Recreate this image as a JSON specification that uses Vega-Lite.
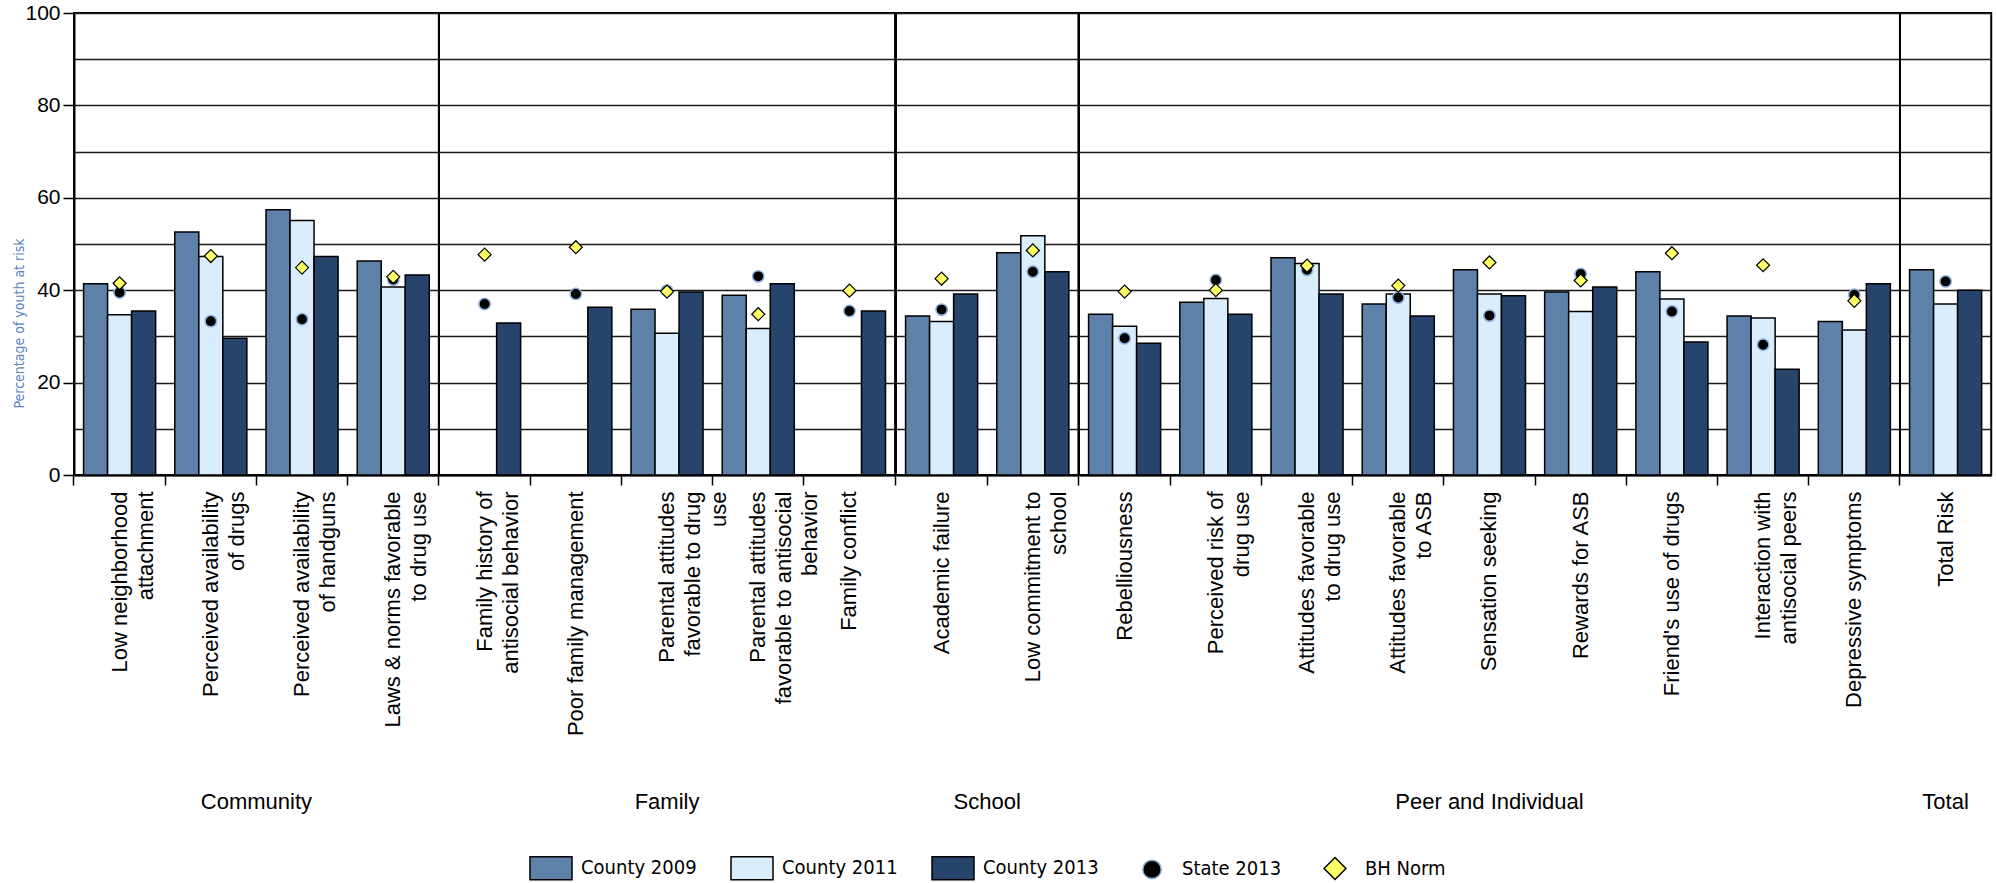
{
  "$schema": "https://vega.github.io/schema/vega-lite/v6.json",
  "background": "white",
  "padding": {"left": 12, "top": 2, "right": 5, "bottom": 5},
  "bounds": "flush",
  "data": {"values": [
    {"domain": "Community", "factor": "Low neighborhood|attachment", "series": "County 2009", "value": 41.4},
    {"domain": "Community", "factor": "Low neighborhood|attachment", "series": "County 2011", "value": 34.7},
    {"domain": "Community", "factor": "Low neighborhood|attachment", "series": "County 2013", "value": 35.5},
    {"domain": "Community", "factor": "Low neighborhood|attachment", "series": "State 2013", "value": 39.5},
    {"domain": "Community", "factor": "Low neighborhood|attachment", "series": "BH Norm", "value": 41.5},
    {"domain": "Community", "factor": "Perceived availability|of drugs", "series": "County 2009", "value": 52.6},
    {"domain": "Community", "factor": "Perceived availability|of drugs", "series": "County 2011", "value": 47.3},
    {"domain": "Community", "factor": "Perceived availability|of drugs", "series": "County 2013", "value": 29.6},
    {"domain": "Community", "factor": "Perceived availability|of drugs", "series": "State 2013", "value": 33.3},
    {"domain": "Community", "factor": "Perceived availability|of drugs", "series": "BH Norm", "value": 47.4},
    {"domain": "Community", "factor": "Perceived availability|of handguns", "series": "County 2009", "value": 57.4},
    {"domain": "Community", "factor": "Perceived availability|of handguns", "series": "County 2011", "value": 55.1},
    {"domain": "Community", "factor": "Perceived availability|of handguns", "series": "County 2013", "value": 47.3},
    {"domain": "Community", "factor": "Perceived availability|of handguns", "series": "State 2013", "value": 33.7},
    {"domain": "Community", "factor": "Perceived availability|of handguns", "series": "BH Norm", "value": 44.9},
    {"domain": "Community", "factor": "Laws & norms favorable|to drug use", "series": "County 2009", "value": 46.3},
    {"domain": "Community", "factor": "Laws & norms favorable|to drug use", "series": "County 2011", "value": 40.7},
    {"domain": "Community", "factor": "Laws & norms favorable|to drug use", "series": "County 2013", "value": 43.3},
    {"domain": "Community", "factor": "Laws & norms favorable|to drug use", "series": "State 2013", "value": 42.3},
    {"domain": "Community", "factor": "Laws & norms favorable|to drug use", "series": "BH Norm", "value": 42.9},
    {"domain": "Family", "factor": "Family history of|antisocial behavior", "series": "County 2013", "value": 32.9},
    {"domain": "Family", "factor": "Family history of|antisocial behavior", "series": "State 2013", "value": 37.0},
    {"domain": "Family", "factor": "Family history of|antisocial behavior", "series": "BH Norm", "value": 47.7},
    {"domain": "Family", "factor": "Poor family management", "series": "County 2013", "value": 36.3},
    {"domain": "Family", "factor": "Poor family management", "series": "State 2013", "value": 39.2},
    {"domain": "Family", "factor": "Poor family management", "series": "BH Norm", "value": 49.3},
    {"domain": "Family", "factor": "Parental attitudes|favorable to drug|use", "series": "County 2009", "value": 35.9},
    {"domain": "Family", "factor": "Parental attitudes|favorable to drug|use", "series": "County 2011", "value": 30.7},
    {"domain": "Family", "factor": "Parental attitudes|favorable to drug|use", "series": "County 2013", "value": 39.6},
    {"domain": "Family", "factor": "Parental attitudes|favorable to drug|use", "series": "State 2013", "value": 39.9},
    {"domain": "Family", "factor": "Parental attitudes|favorable to drug|use", "series": "BH Norm", "value": 39.7},
    {"domain": "Family", "factor": "Parental attitudes|favorable to antisocial|behavior", "series": "County 2009", "value": 38.9},
    {"domain": "Family", "factor": "Parental attitudes|favorable to antisocial|behavior", "series": "County 2011", "value": 31.7},
    {"domain": "Family", "factor": "Parental attitudes|favorable to antisocial|behavior", "series": "County 2013", "value": 41.4},
    {"domain": "Family", "factor": "Parental attitudes|favorable to antisocial|behavior", "series": "State 2013", "value": 43.0},
    {"domain": "Family", "factor": "Parental attitudes|favorable to antisocial|behavior", "series": "BH Norm", "value": 34.8},
    {"domain": "Family", "factor": "Family conflict", "series": "County 2013", "value": 35.5},
    {"domain": "Family", "factor": "Family conflict", "series": "State 2013", "value": 35.5},
    {"domain": "Family", "factor": "Family conflict", "series": "BH Norm", "value": 39.9},
    {"domain": "School", "factor": "Academic failure", "series": "County 2009", "value": 34.4},
    {"domain": "School", "factor": "Academic failure", "series": "County 2011", "value": 33.2},
    {"domain": "School", "factor": "Academic failure", "series": "County 2013", "value": 39.2},
    {"domain": "School", "factor": "Academic failure", "series": "State 2013", "value": 35.8},
    {"domain": "School", "factor": "Academic failure", "series": "BH Norm", "value": 42.5},
    {"domain": "School", "factor": "Low commitment to|school", "series": "County 2009", "value": 48.1},
    {"domain": "School", "factor": "Low commitment to|school", "series": "County 2011", "value": 51.8},
    {"domain": "School", "factor": "Low commitment to|school", "series": "County 2013", "value": 44.0},
    {"domain": "School", "factor": "Low commitment to|school", "series": "State 2013", "value": 44.0},
    {"domain": "School", "factor": "Low commitment to|school", "series": "BH Norm", "value": 48.6},
    {"domain": "Peer and Individual", "factor": "Rebelliousness", "series": "County 2009", "value": 34.8},
    {"domain": "Peer and Individual", "factor": "Rebelliousness", "series": "County 2011", "value": 32.2},
    {"domain": "Peer and Individual", "factor": "Rebelliousness", "series": "County 2013", "value": 28.5},
    {"domain": "Peer and Individual", "factor": "Rebelliousness", "series": "State 2013", "value": 29.6},
    {"domain": "Peer and Individual", "factor": "Rebelliousness", "series": "BH Norm", "value": 39.7},
    {"domain": "Peer and Individual", "factor": "Perceived risk of|drug use", "series": "County 2009", "value": 37.4},
    {"domain": "Peer and Individual", "factor": "Perceived risk of|drug use", "series": "County 2011", "value": 38.2},
    {"domain": "Peer and Individual", "factor": "Perceived risk of|drug use", "series": "County 2013", "value": 34.8},
    {"domain": "Peer and Individual", "factor": "Perceived risk of|drug use", "series": "State 2013", "value": 42.2},
    {"domain": "Peer and Individual", "factor": "Perceived risk of|drug use", "series": "BH Norm", "value": 40.0},
    {"domain": "Peer and Individual", "factor": "Attitudes favorable|to drug use", "series": "County 2009", "value": 47.0},
    {"domain": "Peer and Individual", "factor": "Attitudes favorable|to drug use", "series": "County 2011", "value": 45.8},
    {"domain": "Peer and Individual", "factor": "Attitudes favorable|to drug use", "series": "County 2013", "value": 39.2},
    {"domain": "Peer and Individual", "factor": "Attitudes favorable|to drug use", "series": "State 2013", "value": 44.4},
    {"domain": "Peer and Individual", "factor": "Attitudes favorable|to drug use", "series": "BH Norm", "value": 45.3},
    {"domain": "Peer and Individual", "factor": "Attitudes favorable|to ASB", "series": "County 2009", "value": 37.0},
    {"domain": "Peer and Individual", "factor": "Attitudes favorable|to ASB", "series": "County 2011", "value": 39.2},
    {"domain": "Peer and Individual", "factor": "Attitudes favorable|to ASB", "series": "County 2013", "value": 34.4},
    {"domain": "Peer and Individual", "factor": "Attitudes favorable|to ASB", "series": "State 2013", "value": 38.4},
    {"domain": "Peer and Individual", "factor": "Attitudes favorable|to ASB", "series": "BH Norm", "value": 41.0},
    {"domain": "Peer and Individual", "factor": "Sensation seeking", "series": "County 2009", "value": 44.4},
    {"domain": "Peer and Individual", "factor": "Sensation seeking", "series": "County 2011", "value": 39.2},
    {"domain": "Peer and Individual", "factor": "Sensation seeking", "series": "County 2013", "value": 38.8},
    {"domain": "Peer and Individual", "factor": "Sensation seeking", "series": "State 2013", "value": 34.5},
    {"domain": "Peer and Individual", "factor": "Sensation seeking", "series": "BH Norm", "value": 46.0},
    {"domain": "Peer and Individual", "factor": "Rewards for ASB", "series": "County 2009", "value": 39.6},
    {"domain": "Peer and Individual", "factor": "Rewards for ASB", "series": "County 2011", "value": 35.4},
    {"domain": "Peer and Individual", "factor": "Rewards for ASB", "series": "County 2013", "value": 40.7},
    {"domain": "Peer and Individual", "factor": "Rewards for ASB", "series": "State 2013", "value": 43.5},
    {"domain": "Peer and Individual", "factor": "Rewards for ASB", "series": "BH Norm", "value": 42.1},
    {"domain": "Peer and Individual", "factor": "Friend's use of drugs", "series": "County 2009", "value": 44.0},
    {"domain": "Peer and Individual", "factor": "Friend's use of drugs", "series": "County 2011", "value": 38.1},
    {"domain": "Peer and Individual", "factor": "Friend's use of drugs", "series": "County 2013", "value": 28.8},
    {"domain": "Peer and Individual", "factor": "Friend's use of drugs", "series": "State 2013", "value": 35.4},
    {"domain": "Peer and Individual", "factor": "Friend's use of drugs", "series": "BH Norm", "value": 48.0},
    {"domain": "Peer and Individual", "factor": "Interaction with|antisocial peers", "series": "County 2009", "value": 34.4},
    {"domain": "Peer and Individual", "factor": "Interaction with|antisocial peers", "series": "County 2011", "value": 34.0},
    {"domain": "Peer and Individual", "factor": "Interaction with|antisocial peers", "series": "County 2013", "value": 22.9},
    {"domain": "Peer and Individual", "factor": "Interaction with|antisocial peers", "series": "State 2013", "value": 28.2},
    {"domain": "Peer and Individual", "factor": "Interaction with|antisocial peers", "series": "BH Norm", "value": 45.4},
    {"domain": "Peer and Individual", "factor": "Depressive symptoms", "series": "County 2009", "value": 33.2},
    {"domain": "Peer and Individual", "factor": "Depressive symptoms", "series": "County 2011", "value": 31.4},
    {"domain": "Peer and Individual", "factor": "Depressive symptoms", "series": "County 2013", "value": 41.4},
    {"domain": "Peer and Individual", "factor": "Depressive symptoms", "series": "State 2013", "value": 39.0},
    {"domain": "Peer and Individual", "factor": "Depressive symptoms", "series": "BH Norm", "value": 37.7},
    {"domain": "Total", "factor": "Total Risk", "series": "County 2009", "value": 44.4},
    {"domain": "Total", "factor": "Total Risk", "series": "County 2011", "value": 37.0},
    {"domain": "Total", "factor": "Total Risk", "series": "County 2013", "value": 40.0},
    {"domain": "Total", "factor": "Total Risk", "series": "State 2013", "value": 41.9}
  ]},
  "facet": {
    "column": {
      "field": "domain", "type": "nominal",
      "sort": ["Community", "Family", "School", "Peer and Individual", "Total"],
      "title": null,
      "header": {"labelOrient": "bottom", "labelFont": "Liberation Sans", "labelFontSize": 22, "labelColor": "black", "labelPadding": 317}
    }
  },
  "spacing": 0,
  "resolve": {"scale": {"x": "independent"}},
  "spec": {
    "width": {"step": 24.02},
    "height": 462,
    "encoding": {
      "x": {
        "field": "factor", "type": "nominal",
        "sort": ["Low neighborhood|attachment", "Perceived availability|of drugs", "Perceived availability|of handguns", "Laws & norms favorable|to drug use", "Family history of|antisocial behavior", "Poor family management", "Parental attitudes|favorable to drug|use", "Parental attitudes|favorable to antisocial|behavior", "Family conflict", "Academic failure", "Low commitment to|school", "Rebelliousness", "Perceived risk of|drug use", "Attitudes favorable|to drug use", "Attitudes favorable|to ASB", "Sensation seeking", "Rewards for ASB", "Friend's use of drugs", "Interaction with|antisocial peers", "Depressive symptoms", "Total Risk"],
        "scale": {"paddingInner": 0.21, "paddingOuter": 0.105},
        "axis": {
          "title": null, "labelAngle": 270, "labelExpr": "split(datum.label, '|')",
          "labelFont": "Liberation Sans", "labelFontSize": 22, "labelLineHeight": 26, "labelColor": "black",
          "labelPadding": 6, "labelLimit": 400, "labelOverlap": false,
          "tickSize": 10, "tickColor": "black", "tickWidth": 1.5, "bandPosition": -0.133,
          "domainColor": "black", "domainWidth": 2, "grid": false
        }
      },
      "y": {
        "field": "value", "type": "quantitative",
        "scale": {"domain": [0, 100]},
        "axis": {
          "values": [0, 10, 20, 30, 40, 50, 60, 70, 80, 90, 100],
          "labelExpr": "datum.value % 20 === 0 ? datum.label : ''",
          "tickOpacity": {"condition": {"test": "datum.value % 20 === 0", "value": 1}, "value": 0},
          "title": "Percentage of youth at risk", "titleColor": "#5b82c4",
          "titleFont": "DejaVu Sans Condensed, Liberation Sans Narrow, Roboto, sans-serif", "titleFontSize": 14, "titleFontWeight": "normal",
          "titleX": -55, "titleY": 310, "titleAngle": 270, "titleAlign": "center", "titleBaseline": "middle",
          "grid": true, "gridColor": "#1a1a1a", "gridWidth": 1.5,
          "domainColor": "black", "domainWidth": 2,
          "tickColor": "black", "tickSize": 11, "tickWidth": 1.5,
          "labelFont": "Liberation Sans", "labelFontSize": 21, "labelColor": "black", "labelPadding": 3
        }
      }
    },
    "layer": [
      {
        "transform": [{"filter": "indexof(datum.series, 'County') === 0"}],
        "mark": {"type": "bar", "stroke": "black", "strokeWidth": 1.5},
        "encoding": {
          "xOffset": {"field": "series", "type": "nominal", "sort": ["County 2009", "County 2011", "County 2013"], "scale": {"paddingInner": 0, "paddingOuter": 0}},
          "fill": {
            "field": "series", "type": "nominal",
            "scale": {"domain": ["County 2009", "County 2011", "County 2013", "State 2013", "BH Norm"], "range": ["#5d81a9", "#daedfd", "#27446d", "#000000", "#ffff66"]},
            "legend": {
              "title": null, "orient": "none", "legendX": 455, "legendY": 833, "direction": "horizontal",
              "padding": 0, "symbolSize": 1764, "symbolType": "M-1,-0.55H1V0.55H-1Z",
              "symbolStrokeColor": "black", "symbolStrokeWidth": 1.5,
              "labelFont": "DejaVu Sans Condensed, Liberation Sans Narrow, Roboto, sans-serif", "labelFontSize": 20, "labelColor": "black",
              "labelOffset": 8, "columnPadding": 31,
              "encode": {"symbols": {"update": {
                "shape": {"signal": "datum.value === 'State 2013' ? 'circle' : datum.value === 'BH Norm' ? 'diamond' : 'M-1,-0.55H1V0.55H-1Z'"},
                "size": {"signal": "datum.value === 'State 2013' ? 340 : datum.value === 'BH Norm' ? 480 : 1764"},
                "stroke": {"signal": "datum.value === 'State 2013' ? '#8fb1db' : 'black'"}
              }}}
            }
          }
        }
      },
      {
        "transform": [{"filter": "datum.series === 'State 2013'"}],
        "mark": {"type": "point", "shape": "circle", "filled": true, "size": 130, "stroke": "#8fb1db", "strokeWidth": 1.5, "opacity": 1},
        "encoding": {"fill": {"field": "series", "type": "nominal"}}
      },
      {
        "transform": [{"filter": "datum.series === 'BH Norm'"}],
        "mark": {"type": "point", "shape": "diamond", "filled": true, "size": 170, "stroke": "black", "strokeWidth": 1.2, "opacity": 1},
        "encoding": {"fill": {"field": "series", "type": "nominal"}}
      }
    ]
  },
  "config": {
    "font": "Liberation Sans",
    "view": {"stroke": "black", "strokeWidth": 2}
  }
}
